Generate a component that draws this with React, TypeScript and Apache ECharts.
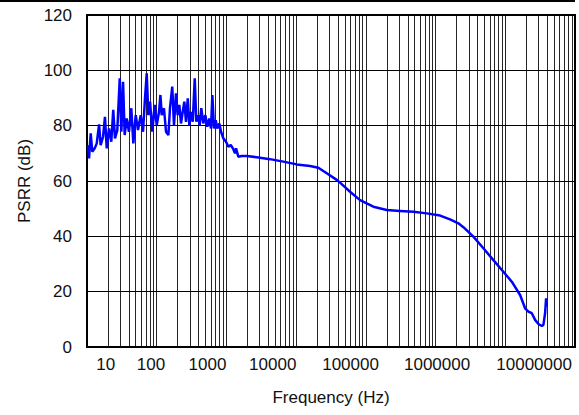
import React, { useEffect, useRef } from "react";
import * as echarts from "echarts";

// Frequency (Hz)
const freqHz = [
  10.3, 10.7, 11.3, 11.9, 12.9, 13.8, 14.9, 15.7, 17.0, 18.1, 19.2, 20.7, 22.3, 23.8, 25.2, 27.2,
  29.5, 31.1, 32.9, 34.7, 37.1, 40.0, 43.2, 46.2, 50.0, 53.9, 58.9, 63.6, 67.9, 71.9, 75.8, 80.2,
  86.5, 93.6, 100, 108, 113, 118, 127, 136, 147, 155, 167, 177, 189, 200, 211, 223, 236, 249, 263,
  279, 294, 311, 329, 351, 370, 391, 414, 436, 466, 498, 532, 568, 601, 628, 664, 702, 740, 791,
  837, 903, 987, 1065, 1153, 1256, 1328, 1373, 1481, 1658, 1956, 2721, 4223, 6553, 10200, 15830,
  20820, 27480, 38230, 42640, 59340, 82590, 128100, 199500, 309600, 480400, 747600, 1160000,
  1614000, 2124000, 2506000, 3486000, 4851000, 6751000, 9391000, 12400000, 16310000, 19240000,
  21450000, 23990000, 26770000, 29860000, 33400000, 35210000, 37240000, 38490000, 39390000,
];

// PSRR (dB)
const psrrDb = [
  73.0, 68.2, 77.2, 70.6, 71.8, 73.6, 80.5, 73.0, 76.0, 83.2, 71.8, 79.0, 74.2, 85.7, 75.4, 78.4,
  97.1, 77.8, 95.9, 76.6, 82.6, 77.8, 86.3, 73.6, 83.8, 78.4, 83.8, 77.8, 89.9, 98.9, 83.8, 88.7,
  77.8, 87.5, 80.2, 85.0, 91.1, 83.8, 86.3, 77.8, 76.6, 86.3, 94.1, 80.2, 91.7, 83.8, 87.5, 80.8,
  85.0, 88.7, 81.4, 89.9, 80.2, 85.0, 81.4, 97.1, 81.4, 83.8, 80.2, 86.3, 80.8, 83.8, 79.6, 82.6,
  79.0, 91.1, 79.0, 82.0, 79.0, 80.8, 77.8, 75.4, 74.2, 72.4, 73.0, 71.5, 70.0, 71.8, 68.8, 69.0,
  69.0, 68.6, 67.9, 67.0, 66.0, 65.4, 64.8, 62.8, 60.4, 59.4, 56.1, 53.1, 50.7, 49.5, 49.2, 48.9,
  48.3, 47.5, 46.1, 44.7, 43.3, 39.9, 35.7, 31.4, 27.2, 23.6, 18.8, 14.0, 12.8, 12.2, 9.8, 8.3,
  7.6, 8.0, 12.2, 17.6, 14.6,
];

// X tick labels (one per decade)
const xTickValues = [10, 100, 1000, 10000, 100000, 1000000, 10000000];
const xTickLabels = ["10", "100", "1000", "10000", "100000", "1000000", "10000000"];
// horizontal shift of each x label relative to its tick (style, px)
const xLabelShift = [18.8, -5.7, -18.9, -23.4, -15.3, 1.5, 28.8];

// Y ticks
const yMin = 0;
const yMax = 120;
const yStep = 20;

const FONT = "'Liberation Sans', Arial, Helvetica, sans-serif";

export default function App() {
  const ref = useRef<HTMLDivElement>(null);

  useEffect(() => {
    document.body.style.margin = "0";
    if (!ref.current) return;
    const chart = echarts.init(ref.current, undefined, { renderer: "svg" });

    // vertical grid lines at 1..9 x each decade
    const gridX: { xAxis: number }[] = [];
    for (let d = 10; d <= 1e7; d *= 10) {
      for (let k = 1; k <= 9; k++) gridX.push({ xAxis: k * d });
    }

    const rich: Record<string, any> = {};
    xLabelShift.forEach((s, i) => {
      rich["s" + i] = {
        fontSize: 17,
        fontFamily: FONT,
        color: "#111",
        padding: s >= 0 ? [0, 0, 0, 2 * s] : [0, -2 * s, 0, 0],
      };
    });

    chart.setOption({
      animation: false,
      backgroundColor: "#fff",
      grid: {
        left: 87,
        right: 4,
        top: 15,
        bottom: 68,
        show: true,
        borderColor: "#000",
        borderWidth: 2,
        backgroundColor: "transparent",
      },
      xAxis: {
        type: "log",
        logBase: 10,
        min: 10,
        max: 1e8,
        splitNumber: 7,
        name: "Frequency (Hz)",
        nameLocation: "middle",
        nameGap: 42,
        nameTextStyle: { fontSize: 17, fontFamily: FONT, color: "#111" },
        axisLine: { show: true, lineStyle: { color: "#000", width: 2 } },
        axisTick: { show: false },
        splitLine: { show: false },
        axisLabel: {
          customValues: xTickValues,
          margin: 9,
          fontSize: 17,
          fontFamily: FONT,
          color: "#111",
          formatter: (value: number) => {
            const i = Math.round(Math.log10(value)) - 1;
            if (i < 0 || i >= xTickLabels.length) return "";
            return "{s" + i + "|" + xTickLabels[i] + "}";
          },
          rich,
        },
      },
      yAxis: {
        type: "value",
        min: yMin,
        max: yMax,
        interval: yStep,
        name: "PSRR (dB)",
        nameLocation: "middle",
        nameGap: 54,
        nameTextStyle: { fontSize: 17, fontFamily: FONT, color: "#111" },
        axisLine: { show: true, lineStyle: { color: "#000", width: 2 } },
        axisTick: { show: false },
        splitLine: { show: true, lineStyle: { color: "#000", width: 1 } },
        axisLabel: { margin: 15, fontSize: 17, fontFamily: FONT, color: "#111" },
      },
      graphic: [
        {
          type: "rect",
          shape: { x: 0, y: 0, width: 575, height: 2 },
          style: { fill: "#000" },
        },
      ],
      series: [
        {
          type: "line",
          data: [],
          z: 1,
          silent: true,
          markLine: {
            silent: true,
            z: 1,
            symbol: "none",
            label: { show: false },
            lineStyle: { color: "#000", width: 1, type: "solid", opacity: 0.85 },
            emphasis: { disabled: true },
            data: gridX,
          },
        },
        {
          type: "line",
          z: 3,
          data: freqHz.map((f, i) => [f, psrrDb[i]]),
          showSymbol: false,
          symbol: "none",
          lineStyle: { color: "#0000ff", width: 2.5 },
          itemStyle: { color: "#0000ff" },
        },
      ],
    });

    return () => chart.dispose();
  }, []);

  return <div ref={ref} style={{ width: 579, height: 415 }} />;
}
